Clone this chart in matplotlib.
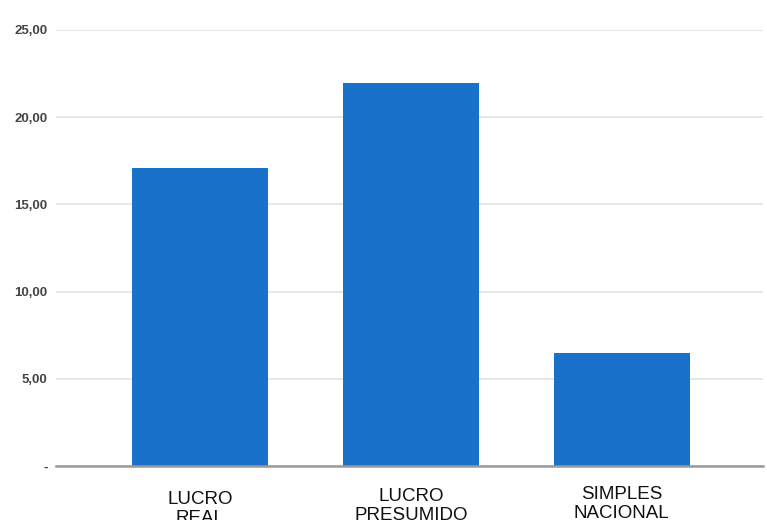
import matplotlib.pyplot as plt
import matplotlib.transforms as mtransforms
import numpy as np

categories = ["LUCRO\nREAL", "LUCRO\nPRESUMIDO", "SIMPLES\nNACIONAL"]
values = [17.08, 21.95, 6.48]
yticks = [0, 5, 10, 15, 20, 25]
ytick_labels = ["-", "5,00", "10,00", "15,00", "20,00", "25,00"]

plt.rcParams["font.family"] = ["Liberation Sans", "DejaVu Sans"]

fig = plt.figure(figsize=(7.67, 5.2), dpi=100)
ax = fig.add_axes([56 / 767, 1 - 466 / 520, (763 - 56) / 767, (466 - 30) / 520])

x = np.arange(len(categories))
ax.bar(x, values, width=0.646, color="#1a71c9", zorder=3)

ax.set_xlim(-0.684, 2.67)
ax.set_ylim(0, 25)
ax.set_yticks(yticks)
ax.set_yticklabels(ytick_labels, fontsize=9.5, color="#444444", fontweight="bold")
ax.set_xticks(x)
ax.set_xticklabels(categories, fontsize=13.5, color="#111111", linespacing=1.12)
ax.tick_params(axis="y", length=0, pad=6)
ax.tick_params(axis="x", length=0, pad=16)

# labels in the original sit at slightly different heights
for lbl, dy in zip(ax.get_xticklabels(), [-3, 0, 2]):
    off = mtransforms.ScaledTranslation(0, dy / 100, fig.dpi_scale_trans)
    lbl.set_transform(lbl.get_transform() + off)

ax.grid(axis="y", color="#e3e3e3", linewidth=1.2, zorder=0)
for s in ["top", "right", "left"]:
    ax.spines[s].set_visible(False)
ax.spines["bottom"].set_color("#9a9a9a")
ax.spines["bottom"].set_linewidth(1.8)
ax.spines["bottom"].set_zorder(4)

fig.savefig("out.png", dpi=100)
